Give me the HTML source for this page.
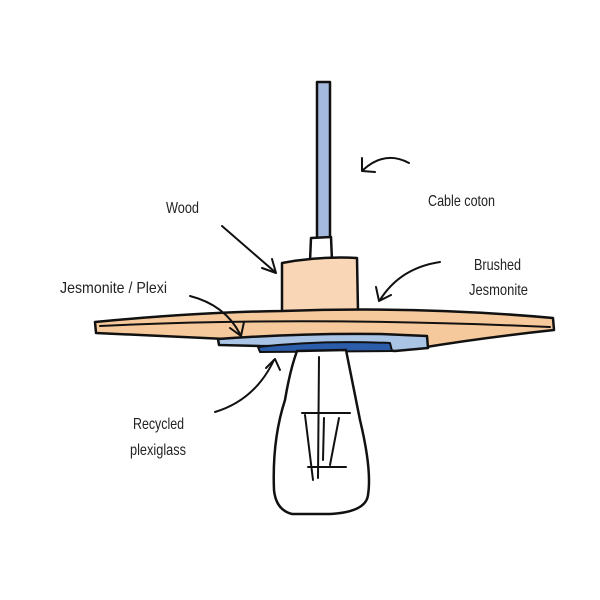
<!DOCTYPE html>
<html><head><style>
html,body{margin:0;padding:0;background:#fff;width:600px;height:600px;overflow:hidden}
svg text{font-family:"Liberation Sans Narrow","Liberation Sans",sans-serif;font-size:16px;fill:#222}
</style></head><body>
<svg width="600" height="600" viewBox="0 0 600 600" xmlns="http://www.w3.org/2000/svg">
<g stroke="#111" stroke-width="2.5" stroke-linejoin="round" stroke-linecap="round">
<rect x="317" y="82" width="13" height="156" fill="#a4badf"/>
<path d="M311,238 L331,237 L332,261 L310,261 Z" fill="#fff"/>
<path d="M282,263 Q320,256 357,258 L358,311 L282,312 Z" fill="#f8d6b6"/>
<path d="M95,322 Q200,312 282,311 Q420,306 553,318 L554,330 Q480,338 420,348 L96,333 Z" fill="#f6c99c"/>
<path d="M100,326 Q300,316 550,327" fill="none" stroke-width="2"/>
<path d="M218,339 Q300,333 380,334 L427,336 L428,348 L395,351 Q330,346 260,346 L219,345 Z" fill="#aac4e6"/>
<path d="M258,347 Q320,340 390,343 L392,351 L260,352 Z" fill="#2b5dab" stroke-width="2"/>
<path d="M297,351 L346,350 Q352,380 360,420 Q372,470 368,495 Q366,512 330,514 L292,514 Q276,510 274,490 Q272,440 285,400 Q290,370 297,351 Z" fill="#fff"/>
<g fill="none" stroke-width="2">
<path d="M319,357 L318,478"/>
<path d="M302,413 L350,413"/>
<path d="M305,415 L313,480"/>
<path d="M339,418 L330,465"/>
<path d="M324,418 L323,460"/>
<path d="M308,467 L346,467"/>
</g>
<g fill="none" stroke-width="2">
<path d="M222,226 L275,272"/><path d="M262,268 L276,273 L272,259"/>
<path d="M409,163 Q385,150 363,170"/><path d="M362,158 L362,171 L375,172"/>
<path d="M440,262 Q400,268 380,300"/><path d="M376,287 L379,301 L391,295"/>
<path d="M190,296 Q225,305 240,334"/><path d="M230,328 L241,336 L244,322"/>
<path d="M215,412 Q255,400 274,360"/><path d="M266,368 L275,359 L280,370"/>
</g>
</g>
<text x="166" y="213" textLength="33" lengthAdjust="spacingAndGlyphs">Wood</text>
<text x="428" y="206" textLength="67" lengthAdjust="spacingAndGlyphs">Cable coton</text>
<text x="474" y="270" textLength="47" lengthAdjust="spacingAndGlyphs">Brushed</text>
<text x="469" y="295" textLength="59" lengthAdjust="spacingAndGlyphs">Jesmonite</text>
<text x="60" y="293" textLength="107" lengthAdjust="spacingAndGlyphs">Jesmonite / Plexi</text>
<text x="133" y="429" textLength="51" lengthAdjust="spacingAndGlyphs">Recycled</text>
<text x="130" y="455" textLength="56" lengthAdjust="spacingAndGlyphs">plexiglass</text>
</svg>
</body></html>
